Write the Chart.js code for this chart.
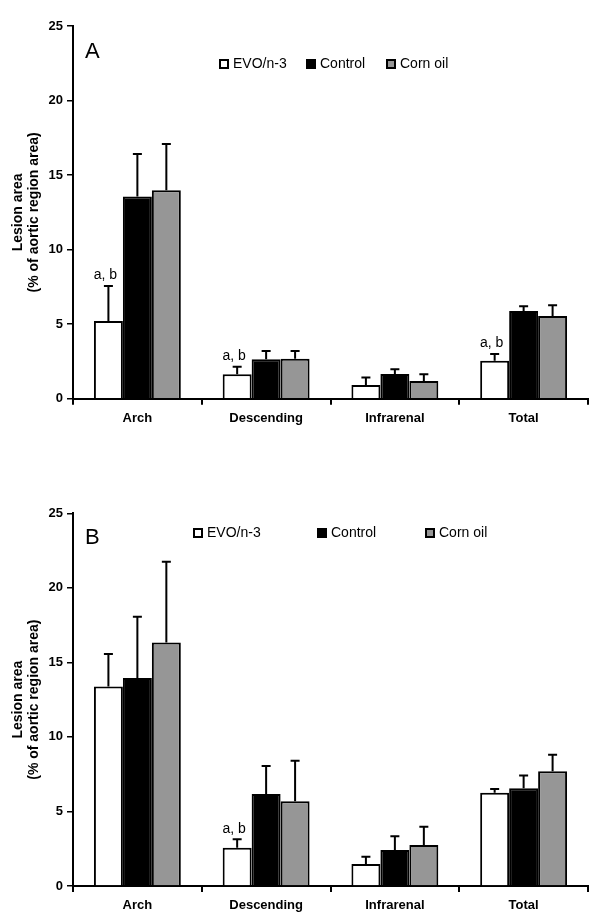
<!DOCTYPE html>
<html><head><meta charset="utf-8">
<script src="https://cdn.jsdelivr.net/npm/chart.js@4.4.1/dist/chart.umd.min.js"></script>
<style>
body{margin:0;background:#fff}
.w{position:absolute;left:0;width:600px;height:460px}
canvas{display:block}
</style>
</head><body>
<div class="w" style="top:0"><canvas id="ca" width="600" height="460"></canvas></div>
<div class="w" style="top:460px"><canvas id="cb" width="600" height="460"></canvas></div>
<script>
// ---- data ----
const categories = ['Arch', 'Descending', 'Infrarenal', 'Total'];
const seriesNames = ['EVO/n-3', 'Control', 'Corn oil'];
const yTicks = [0, 5, 10, 15, 20, 25];

// Panel A
const aEvo = [5.21, 1.64, 0.92, 2.55];
const aEvoErr = [2.35, 0.51, 0.51, 0.45];
const aControl = [13.56, 2.64, 1.66, 5.89];
const aControlErr = [2.86, 0.56, 0.31, 0.31];
const aCorn = [13.99, 2.68, 1.19, 5.55];
const aCornErr = [3.10, 0.52, 0.45, 0.72];
const aNotes = ['a, b', 'a, b', '', 'a, b'];

// Panel B
const bEvo = [13.39, 2.57, 1.48, 6.26];
const bEvoErr = [2.17, 0.56, 0.49, 0.24];
const bControl = [13.95, 6.17, 2.41, 6.55];
const bControlErr = [4.11, 1.88, 0.92, 0.87];
const bCorn = [16.34, 5.68, 2.75, 7.69];
const bCornErr = [5.41, 2.72, 1.23, 1.12];
const bNotes = ['', 'a, b', '', ''];

const yTitle = ['Lesion area', '(% of aortic region area)'];

// ---- styles ----
const FONT = 'Arial, "Liberation Sans", sans-serif';
const colors = ['#ffffff', '#000000', '#969696'];

const errorBars = {
  id: 'errorBars',
  afterDatasetsDraw(chart) {
    const ctx = chart.ctx, ys = chart.scales.y;
    chart.data.datasets.forEach((ds, i) => {
      const meta = chart.getDatasetMeta(i);
      meta.data.forEach((bar, j) => {
        const top = ys.getPixelForValue(ds.data[j] + ds.errors[j]);
        ctx.save();
        ctx.strokeStyle = '#000';
        ctx.lineWidth = 2;
        ctx.beginPath();
        ctx.moveTo(bar.x, bar.y);
        ctx.lineTo(bar.x, top);
        ctx.moveTo(bar.x - 4.5, top);
        ctx.lineTo(bar.x + 4.5, top);
        ctx.stroke();
        if (ds.notes && ds.notes[j]) {
          ctx.font = '14px ' + FONT;
          ctx.fillStyle = '#000';
          ctx.textAlign = 'center';
          ctx.textBaseline = 'alphabetic';
          ctx.fillText(ds.notes[j], bar.x - 3, top - 6.5);
        }
        ctx.restore();
      });
    });
  }
};

const panelDeco = {
  id: 'panelDeco',
  afterDraw(chart, args, o) {
    const ctx = chart.ctx;
    ctx.save();
    ctx.fillStyle = '#000';
    ctx.font = '22px ' + FONT;
    ctx.textAlign = 'left';
    ctx.textBaseline = 'alphabetic';
    ctx.fillText(o.letter, o.letterX, o.letterY);
    ctx.font = '14px ' + FONT;
    ctx.textBaseline = 'middle';
    chart.data.datasets.forEach((ds, i) => {
      const x = o.legendX[i], y = o.legendY;
      ctx.fillStyle = ds.backgroundColor;
      ctx.fillRect(x, y - 5, 10, 10);
      ctx.strokeStyle = '#000';
      ctx.lineWidth = 2;
      ctx.strokeRect(x + 1, y - 4, 8, 8);
      ctx.fillStyle = '#000';
      ctx.fillText(ds.label, x + 14, y + 0.5);
    });
    ctx.restore();
  }
};

function makeChart(id, vals, errs, notes, deco, want) {
  const datasets = seriesNames.map((name, i) => ({
    label: name,
    data: vals[i],
    errors: errs[i],
    notes: i === 0 ? notes : null,
    backgroundColor: colors[i],
    borderColor: '#000',
    borderWidth: 2,
    categoryPercentage: 0.675,
    barPercentage: 1.0
  }));
  const chart = new Chart(document.getElementById(id), {
    type: 'bar',
    data: { labels: categories, datasets },
    options: {
      responsive: false,
      animation: false,
      layout: { padding: { left: 2, right: 12, top: want.top, bottom: 10 } },
      plugins: { legend: { display: false }, tooltip: { enabled: false }, panelDeco: deco },
      scales: {
        x: {
          grid: { display: true, drawOnChartArea: false, drawTicks: true, tickLength: 6, color: '#000', lineWidth: 2, offset: true },
          border: { display: true, color: '#000', width: 2 },
          ticks: { color: '#000', font: { family: FONT, size: 13, weight: 'bold' }, padding: 6 },
          afterFit(s) { s.height = 30; }
        },
        y: {
          min: 0, max: 25,
          afterBuildTicks(s) { s.ticks = yTicks.map(v => ({ value: v })); },
          grid: { display: true, drawOnChartArea: false, drawTicks: true, tickLength: 6, color: '#000', lineWidth: 1.5 },
          border: { display: true, color: '#000', width: 2 },
          ticks: { color: '#000', font: { family: FONT, size: 13, weight: 'bold' }, padding: 4 },
          title: { display: true, text: yTitle, color: '#000', font: { family: FONT, size: 14, weight: 'bold', lineHeight: 1.12 }, padding: { top: 8.5, bottom: 0 } },
          afterFit(s) { s.width = 71; }
        }
      }
    },
    plugins: [errorBars, panelDeco]
  });
  for (let k = 0; k < 3; k++) {
    const a = chart.chartArea, p = chart.options.layout.padding;
    p.top += want.top - a.top;
    p.bottom += a.bottom - want.bottom;
    chart.update('none');
  }
  return chart;
}

makeChart('ca', [aEvo, aControl, aCorn], [aEvoErr, aControlErr, aCornErr], aNotes,
  { letter: 'A', letterX: 85, letterY: 57.5, legendX: [219, 306, 386], legendY: 64 },
  { top: 26, bottom: 398.7 });
makeChart('cb', [bEvo, bControl, bCorn], [bEvoErr, bControlErr, bCornErr], bNotes,
  { letter: 'B', letterX: 85, letterY: 84, legendX: [193, 317, 425], legendY: 73 },
  { top: 53.3, bottom: 426 });
</script>
</body></html>
